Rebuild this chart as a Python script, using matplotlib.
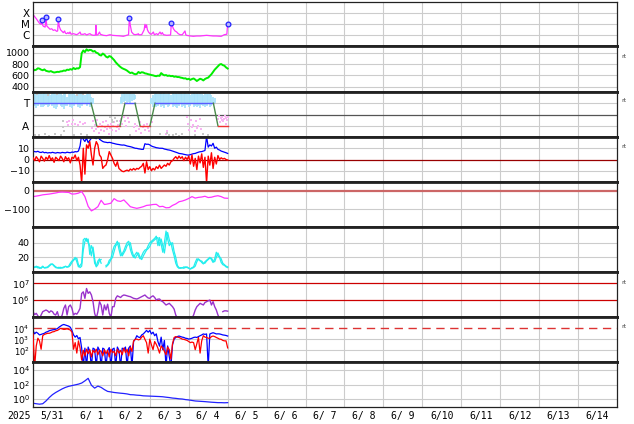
"""
plot.py - space weather summary, 2025-05-31 .. 2025-06-14 (9 stacked panels).
Times are hours since 2025-05-31 00:00 UT.
"""
import numpy as np
import matplotlib
matplotlib.use("Agg")
import matplotlib.pyplot as plt
from matplotlib.ticker import NullLocator

nan = np.nan

# ── Data ──────────────────────────────────────────────────────────────────────

day_labels = ["5/31", "6/ 1", "6/ 2", "6/ 3", "6/ 4", "6/ 5", "6/ 6", "6/ 7",
              "6/ 8", "6/ 9", "6/10", "6/11", "6/12", "6/13", "6/14"]

# X-ray flux (log10 W/m2)
xr_hours = [0, 1, 2, 3, 4, 5.0, 5.4, 5.9, 6.4, 7.5,
            8.0, 8.5, 9.5, 10.5, 11.5, 12.5, 13.5, 14.6, 15.2, 15.6,
            16.2, 17.0, 18.0, 18.7, 19.5, 20.0, 20.8, 21.5, 22.2, 22.8,
            23.5, 24.9, 26.0, 26.9, 28.0, 29.0, 29.5, 31.0, 32.0, 33.1,
            34.0, 35.1, 36.0, 37.2, 38.5, 38.8, 39.2, 40.0, 41.0, 41.5,
            42.3, 43.5, 45.4, 47.5, 49.0, 51.6, 53.5, 55.7, 57.7, 58.9,
            59.4, 60.0, 60.8, 62.0, 62.9, 64.5, 64.9, 65.3, 67.0, 68.5,
            69.0, 69.5, 70.0, 70.5, 71.2, 72.1, 73.0, 74.2, 74.8, 76.2,
            77.0, 78.3, 79.0, 79.7, 80.4, 82.4, 84.8, 85.3, 86.5, 87.5,
            88.6, 89.5, 90.6, 92.0, 93.7, 94.2, 94.7, 96.5, 98.8, 101.0,
            103.0, 105.0, 107.0, 109.0, 111.0, 113.0, 116.0, 118.0, 119.5, 120.0]
xr_log = [-4.09, -4.3, -4.48, -4.7, -4.9, -5.0, -4.64, -5.05, -5.18, -5.25,
          -4.34, -5.15, -5.3, -5.45, -5.4, -5.55, -5.5, -5.64, -5.6, -4.55,
          -5.2, -5.5, -5.65, -5.76, -5.6, -5.8, -5.85, -5.75, -5.85, -5.7,
          -5.9, -5.85, -5.9, -5.94, -5.85, -5.7, -5.9, -5.91, -5.85, -5.97,
          -5.9, -5.85, -5.95, -6.0, -5.98, -5.09, -5.98, -5.95, -5.7, -5.9,
          -5.94, -6.0, -6.03, -5.94, -6.0, -6.03, -6.05, -6.09, -6.0, -5.95,
          -4.45, -5.1, -5.7, -5.9, -5.94, -5.9, -5.85, -5.95, -5.94, -5.5,
          -5.0, -5.3, -5.05, -5.48, -5.7, -5.85, -5.9, -5.7, -5.95, -5.85,
          -5.95, -5.7, -5.9, -5.75, -5.94, -6.0, -5.97, -4.85, -5.39, -5.6,
          -5.7, -5.85, -5.94, -5.95, -5.6, -5.95, -6.0, -6.05, -6.09, -6.06,
          -6.06, -6.03, -6.0, -6.03, -6.06, -6.06, -6.09, -5.94, -5.9, -4.94]
flare_hours = [5.4, 8.0, 15.6, 59.4, 85.3, 120.0]
flare_log = [-4.64, -4.34, -4.55, -4.45, -4.85, -4.94]

# solar wind speed (km/s), hourly
speed = [712, 690, 700, 725, 718, 700, 690, 705, 680, 672,
         665, 675, 660, 650, 655, 662, 660, 670, 672, 685,
         680, 700, 695, 710, 700, 730, 710, 725, 720, 745,
         990, 1040, 1010, 1060, 1035, 1050, 1045, 1020, 1030, 1000,
         990, 960, 950, 985, 965, 930, 915, 940, 930, 900,
         870, 830, 800, 770, 745, 725, 712, 700, 683, 660,
         640, 650, 630, 620, 625, 660, 640, 655, 650, 635,
         630, 620, 614, 605, 600, 590, 585, 595, 590, 640,
         615, 600, 605, 590, 596, 585, 590, 575, 580, 570,
         570, 560, 555, 545, 548, 530, 540, 520, 535, 545,
         525, 500, 520, 540, 530, 510, 535, 550, 560, 590,
         620, 660, 700, 730, 760, 790, 800, 780, 770, 740, 720]

# IMF sector (3 = toward, 1 = away)
sector_hours = [0, 35.8, 39.3, 53.6, 56.7, 62.9, 66.0, 72.1, 75.2, 111.2, 114.0, 120.2]
sector_state = [3, 3, 1, 1, 3, 3, 1, 1, 3, 3, 1, 1]
toward_hi = [3.9, 3.85, 3.9, 3.8, 3.9, 3.95, 3.85, 3.9, 3.8, 3.9,
             3.85, 3.7, 3.9, 3.95, 3.85, 3.8, 3.9, 3.9, 3.75, 3.85,
             3.9, 3.6, 3.85, 3.9, 3.8, 3.9, 3.7, 3.85, 3.9, 3.95,
             3.9, 3.8, 3.7, 3.85, 3.9, 3.8, 3.6, 3.5,
             nan, nan, nan, nan, nan, nan, nan, nan, nan, nan, nan, nan, nan, nan, nan, nan,
             3.6, 3.8, 3.9, 3.85, 3.9, 3.95, 3.9, 3.8, 3.85, 3.7,
             nan, nan, nan, nan, nan, nan, nan, nan, nan,
             3.5, 3.7, 3.85, 3.9, 3.8, 3.9, 3.95, 3.85, 3.9, 3.8,
             3.85, 3.9, 3.75, 3.9, 3.85, 3.9, 3.8, 3.95, 3.9, 3.85,
             3.8, 3.9, 3.85, 3.9, 3.7, 3.85, 3.9, 3.8, 3.9, 3.85,
             3.9, 3.8, 3.75, 3.9, 3.85, 3.8, 3.9, 3.7, 3.6, 3.5,
             nan, nan, nan, nan, nan, nan, nan, nan]
toward_lo = [2.7, 2.8, 2.6, 2.75, 2.9, 2.7, 2.65, 2.8, 2.85, 2.7,
             2.75, 2.95, 2.8, 2.6, 2.5, 2.7, 2.9, 2.8, 2.65, 2.45,
             2.75, 2.8, 2.9, 2.7, 2.6, 2.8, 3.0, 2.9, 2.7, 2.55,
             2.8, 3.0, 2.9, 2.75, 2.9, 2.7, 2.8, 2.9,
             nan, nan, nan, nan, nan, nan, nan, nan, nan, nan, nan, nan, nan, nan, nan, nan,
             2.9, 3.0, 3.1, 3.2, 3.0, 3.1, 3.05, 3.2, 3.3, 3.4,
             nan, nan, nan, nan, nan, nan, nan, nan, nan,
             2.9, 2.7, 2.8, 2.65, 2.75, 2.9, 2.7, 2.8, 2.6, 2.85,
             2.7, 2.75, 2.9, 2.65, 2.8, 2.7, 2.55, 2.8, 2.9, 2.7,
             2.75, 2.6, 2.85, 2.7, 2.8, 2.9, 2.65, 2.75, 2.7, 2.8,
             2.6, 2.85, 2.75, 2.7, 2.8, 2.9, 2.7, 2.8, 2.9, 3.0,
             nan, nan, nan, nan, nan, nan, nan, nan]
pink_hours = [20.8, 21.6, 22.4, 23.9, 24.7, 26.1, 27.5, 29.0, 30.6, 32.2,
              36.3, 36.9, 37.6, 38.2, 38.8, 39.5, 40.1, 40.7, 41.4, 42.0,
              42.6, 43.3, 43.9, 44.5, 45.2, 45.8, 46.4, 47.1, 47.7, 48.3,
              49.0, 49.6, 50.2, 50.9, 51.5, 52.1, 52.8, 53.4, 54.2, 55.1,
              55.9, 56.8, 57.6, 58.5, 59.3, 62.0, 62.8, 63.6, 64.4, 65.2,
              66.0, 66.8, 67.6, 68.4, 69.2, 70.0, 70.8, 71.6, 72.4, 73.2,
              82.0, 82.8, 83.6, 94.8, 95.6, 96.4, 97.2, 98.0, 98.8, 99.6,
              100.4, 101.2, 102.0, 102.8, 103.6, 114.2, 114.7, 115.2, 115.7, 116.2,
              116.7, 117.2, 117.7, 118.2, 118.7, 119.2, 119.7, 120.1]
pink_level = [1.3, 1.1, 1.4, 1.2, 1.5, 1.2, 1.1, 1.3, 1.2, 1.25,
              0.8, 1.4, 0.5, 1.1, 0.7, 1.5, 0.9, 0.4, 1.2, 0.6,
              1.0, 1.3, 0.5, 0.9, 1.4, 0.7, 1.1, 0.3, 0.8, 1.2,
              0.6, 1.0, 1.3, 0.5, 0.9, 1.1, 0.7, 1.4, 1.6, 1.2,
              1.8, 1.4, 1.0, 1.7, 1.3, 0.9, 1.2, 0.5, 1.0, 0.7,
              1.3, 0.4, 0.9, 1.1, 0.6, 1.2, 0.8, 0.5, 1.0, 1.3,
              0.3, 0.5, 0.2, 1.8, 1.2, 0.6, 1.5, 0.9, 1.1, 0.5,
              1.4, 0.8, 1.0, 1.6, 0.7, 1.6, 1.9, 1.3, 1.7, 1.5,
              1.8, 1.4, 1.6, 1.9, 1.2, 1.7, 1.5, 1.8]
gray_hours = [1.5, 4.0, 7.5, 10.0, 13.5, 17.0, 18.2, 18.6, 19.0, 25.0,
              29.5, 33.0, 47.5, 48.5, 49.5, 50.5, 51.5, 60.0, 78.0, 82.5,
              84.0, 86.5, 88.0, 90.0, 92.0, 105.0, 108.0, 2.5, 9.0, 15.0,
              27.0, 31.0, 100.0]
gray_level = [0.2, 0.15, 0.3, 0.1, 0.25, 0.2, 1.4, 0.9, 0.5, 0.15,
              0.3, 0.2, 1.8, 1.5, 1.3, 1.7, 1.4, 0.2, 0.3, 0.4,
              0.2, 0.15, 0.3, 0.1, 0.25, 0.3, 0.2, 3.8, 3.7, 3.85,
              3.75, 3.8, 0.2]

# IMF magnitude and Bz (nT), hourly
bt = [7.5, 7.0, 6.8, 7.3, 6.5, 6.2, 6.8, 6.0, 6.3, 5.8,
      6.1, 5.9, 6.4, 6.0, 5.7, 6.2, 6.0, 5.8, 6.3, 6.1,
      5.9, 6.5, 6.2, 6.0, 6.6, 6.4, 7.0, 6.8, 7.5, 12.0,
      22.0, 18.0, 16.0, 19.0, 15.0, 17.0, 19.0, 20.5, 19.0, 18.5,
      21.0, 18.0, 17.0, 16.0, 15.5, 15.3, 15.0, 15.2, 15.0, 14.5,
      14.2, 13.8, 13.5, 13.3, 13.0, 12.8, 12.9, 12.5, 12.0, 11.7,
      11.4, 11.0, 10.5, 10.0, 9.9, 9.5, 9.3, 9.0, 9.0, 14.0,
      13.5, 13.6, 13.0, 12.0, 11.4, 11.0, 10.5, 10.3, 10.0, 10.0,
      9.9, 9.3, 9.0, 8.6, 8.4, 8.0, 7.5, 7.0, 6.5, 6.0,
      5.4, 5.2, 5.0, 4.6, 4.3, 4.0, 3.9, 4.3, 4.8, 5.2,
      5.4, 6.0, 6.5, 6.9, 7.0, 7.5, 8.0, 20.5, 11.0, 13.0,
      12.0, 14.4, 10.0, 11.0, 9.0, 8.4, 7.5, 7.0, 6.5, 6.0, 5.4]
bz = [1.5, -1.0, 2.5, 0.5, -2.0, 3.0, 1.0, -1.5, 2.0, 0.0,
      3.5, -0.5, 1.5, -2.5, 2.0, 0.5, -1.0, 3.0, 1.0, -2.0,
      2.5, 0.0, 1.5, -3.0, 2.0, 1.0, 4.0, -1.0, 2.0, -5.0,
      -21.0, 10.0, -13.0, 13.0, 10.0, 15.9, 4.0, -4.9, 10.0, 15.9,
      13.0, 4.0, 2.0, -7.9, -6.0, -4.9, 0.0, 7.0, 4.0, 1.0,
      -3.4, -6.0, -2.0, -8.0, -9.3, -10.5, -10.8, -10.0, -9.5, -10.2,
      -8.5, -9.5, -8.0, -9.3, -7.9, -8.5, -7.0, -6.0, -3.4, -12.0,
      -2.0, -9.0, -6.4, -10.0, -7.9, -9.3, -6.4, -8.0, -5.0, -7.9,
      -6.4, -4.9, -6.0, -3.4, -4.9, -2.0, -1.0, 1.0, 2.5, 0.5,
      3.0, 1.0, 2.5, -1.0, 2.0, 0.0, 3.0, -4.0, 4.0, -6.0,
      1.0, -9.0, 3.0, -3.0, 5.0, -7.0, 2.0, -21.0, 3.0, -5.0,
      6.0, -8.0, 2.0, -4.0, 3.5, 0.0, 1.5, 0.5, 1.0, 0.0, -0.4]

# Dst index (nT), every 2 h
dst = [-32, -29, -26, -22, -20, -18, -15, -12, -8, -7,
       -8, -9, -18, -17, -13, -4, -32, -85, -110, -100,
       -87, -52, -75, -72, -68, -43, -55, -58, -50, -68,
       -87, -92, -96, -92, -87, -80, -78, -75, -74, -87,
       -85, -93, -92, -80, -72, -60, -56, -50, -42, -32,
       -40, -36, -34, -30, -37, -35, -30, -27, -32, -40,
       -41]

# cyan index, two traces, hourly
cyan_a = [7, 6, 8, 5.5, 6.5, 5, 7, 6, 5.5, 7,
          9, 11, 10.5, 8, 6, 5.5, 6.5, 5, 6, 7,
          7.5, 6.5, 8, 12, 15, 17, 20, 14, 7, 9,
          12, 44, 46, 42, 45, 24, 36, 30, 12, 8,
          15, 18, 12, nan, nan, 9, 10, 16, 18, 28,
          35, 38, 42, 31, 22, 25, 29, 35, 40, 42,
          31, 24, 20, 24, 27, 22, 18, 22, 27, 30,
          31, 36, 40, 42, 44, 46, 49, 36, 47, 38,
          27, 40, 56, 45, 36, 40, 30, 22, 12, 7,
          5, 6, 5.5, 7, 6, 7, 5, 4.4, 6, 7,
          13, 18, 17, 16, 13, 11, 14, 16, 18, 20,
          17, 13, 18, 27, 22, 20, 13, 10, 9, 7, 6]
cyan_b = [6, 7, 6.5, 7.5, 5, 6, 8, 5.5, 6.5, 6,
          8, 10, 11, 9, 7, 6, 5, 6.5, 5.5, 6,
          8, 7, 7, 9, 13, 16, 18, 19, 10, 6,
          8, 30, 42, 46, 40, 36, 22, 34, 18, 7,
          10, 16, 17, nan, nan, 7, 9, 12, 17, 20,
          28, 36, 38, 40, 28, 22, 26, 30, 36, 38,
          40, 29, 22, 19, 23, 26, 20, 17, 22, 26,
          30, 32, 35, 40, 42, 44, 46, 47, 36, 45,
          36, 26, 42, 54, 44, 38, 40, 28, 20, 9,
          6, 5, 6, 5, 7, 6, 5.5, 4, 5, 6,
          8, 14, 18, 15, 15, 12, 12, 15, 17, 19,
          19, 15, 14, 20, 26, 21, 18, 12, 10, 8, 7]

# electron fluence (log10), hourly
fluence_log = [5.31, 5.12, 5.2, 5.05, 4.9, 5.1, 5.3, 5.35, 5.4, 5.35,
               5.25, 5.35, 5.3, 5.15, 5.1, 5.3, 4.95, 4.9, 5.1, 5.5,
               5.7, 5.1, 5.6, 5.7, 5.5, 5.1, 5.2, 5.15, 5.3, 5.5,
               6.39, 6.49, 6.1, 6.69, 6.4, 6.49, 6.3, 5.9, 5.2, 4.9,
               5.3, 5.9, 5.7, 5.1, 5.7, 5.4, 5.75, 5.2, 4.95, 5.6,
               5.6, 6.1, 6.25, 6.2, 6.15, 6.25, 6.3, 6.28, 6.25, 6.22,
               6.2, 6.15, 6.1, 6.08, 6.06, 6.1, 6.15, 6.2, 6.25, 6.3,
               6.2, 6.12, 6.1, 6.2, 6.25, 6.15, 6.0, 6.05, 6.06, 5.95,
               5.9, 5.8, 5.7, 5.75, 5.8, 5.7, 5.6, 5.45, 5.1, 4.9,
               4.8, 4.8, 4.8, 4.8, 4.8, 4.8, 4.8, 4.8, 4.9, 5.1,
               5.4, 5.6, 5.7, 5.8, 5.75, 5.7, 5.85, 5.9, 5.95, 6.0,
               5.7, 5.9, 5.6, 5.4, 5.1, 4.9, nan, 5.3, 5.35, 5.35, 5.33]

# particle flux (log10), two channels, hourly
flux_blue = [3.81, 3.5, 3.65, 3.55, 3.4, 3.45, 3.5, 3.55, 3.65, 3.7,
             3.78, 3.82, 3.86, 3.88, 3.92, 3.97, 4.1, 4.2, 4.3, 4.35,
             4.3, 4.25, 4.2, 4.1, 3.8, 3.4, 3.2, 3.35, 3.05, 3.17,
             2.2, 0.5, 2.2, 0.5, 2.3, 1.9, 0.5, 2.2, 2.1, 0.5,
             2.3, 2.0, 0.5, 2.2, 2.1, 0.5, 2.0, 2.25, 0.5, 2.1,
             2.2, 0.5, 2.3, 2.0, 0.5, 2.2, 2.1, 2.3, 0.5, 2.2,
             2.4, 0.5, 2.8, 3.0, 3.33, 3.2, 3.17, 3.4, 3.49, 3.65,
             3.81, 3.65, 3.81, 3.49, 3.65, 3.33, 3.5, 2.8, 2.38, 3.2,
             2.06, 2.9, 0.5, 2.4, 1.43, 0.5, 2.5, 3.02, 3.17, 3.25,
             3.3, 3.25, 3.2, 3.17, 3.1, 3.08, 3.02, 3.05, 3.1, 3.17,
             3.2, 3.17, 3.25, 3.33, 3.4, 3.49, 3.45, 3.49, 0.5, 3.49,
             3.55, 3.6, 3.55, 3.49, 3.5, 3.49, 3.45, 3.4, 3.38, 3.35, 3.3]
flux_red = [3.49, 0.5, 2.4, 3.1, 2.86, 2.1, 3.33, 3.45, 3.5, 3.55,
            3.55, 3.6, 3.68, 3.7, 3.78, 3.81, 3.9, 4.0, 3.95, 3.9,
            3.92, 3.96, 3.9, 3.85, 3.65, 2.1, 2.7, 1.75, 2.86, 2.22,
            1.11, 2.0, 1.5, 2.1, 1.7, 2.06, 1.4, 2.0, 1.8, 2.1,
            1.6, 2.0, 1.9, 1.5, 2.05, 1.7, 2.0, 1.4, 2.1, 1.8,
            1.9, 1.5, 2.1, 1.75, 2.0, 1.6, 2.2, 1.8, 2.1, 1.5,
            2.3, 1.9, 2.86, 3.0, 3.02, 2.95, 3.0, 3.2, 3.33, 3.0,
            2.7, 1.75, 3.02, 2.5, 2.06, 2.8, 2.54, 2.2, 1.75, 2.4,
            2.22, 1.9, 1.6, 2.3, 2.06, 1.2, 2.6, 3.17, 3.25, 3.2,
            3.17, 3.1, 3.02, 3.0, 2.95, 2.9, 2.8, 2.7, 2.75, 2.7,
            2.06, 2.6, 3.17, 1.75, 2.86, 3.33, 3.2, 3.17, 3.1, 3.1,
            3.25, 3.3, 3.25, 3.17, 3.1, 3.02, 3.0, 2.9, 2.86, 2.86, 2.22]

# high-energy electrons (log10), every 2 h
electron_log = [-0.58, -0.65, -0.71, -0.65, -0.27, 0.2, 0.6, 0.9, 1.15, 1.4,
                1.6, 1.75, 1.85, 1.95, 2.05, 2.2, 2.5, 2.85, 1.9, 1.5,
                1.78, 1.6, 1.3, 1.05, 0.98, 0.9, 0.85, 0.8, 0.76, 0.7,
                0.6, 0.58, 0.53, 0.5, 0.44, 0.42, 0.4, 0.38, 0.36, 0.34,
                0.31, 0.25, 0.2, 0.13, 0.09, 0.03, 0.0, -0.08, -0.13, -0.2,
                -0.27, -0.3, -0.33, -0.36, -0.4, -0.44, -0.47, -0.5, -0.5, -0.52,
                -0.5]

# ── Layout ────────────────────────────────────────────────────────────────────

W, H = 634, 424
X0, X1 = 33, 617
TOPS = [2, 46, 92, 137, 182, 227, 272, 317, 362]
BOTS = [46, 92, 137, 182, 227, 272, 317, 362, 407]
GRID = "#cccccc"
FRAME = "#222222"

hourly = np.arange(len(speed))
two_hourly = np.arange(len(dst)) * 2

fig = plt.figure(figsize=(W / 100, H / 100), dpi=100)
fig.patch.set_facecolor("white")


def make_panel(i):
    t, b = TOPS[i], BOTS[i]
    ax = fig.add_axes([X0 / W, 1 - b / H, (X1 - X0) / W, (b - t) / H])
    ax.set_xlim(0, 360)
    ax.set_xticks([])
    for d in range(1, 15):
        ax.axvline(24 * d, color=GRID, lw=0.8, zorder=0)
    ax.tick_params(axis="y", which="both", labelsize=6.8, length=0, pad=2.5,
                   right=True)
    ax.tick_params(axis="y", which="major", direction="in")
    for side in ("left", "right"):
        ax.spines[side].set_linewidth(0.9)
        ax.spines[side].set_color(FRAME)
    ax.spines["top"].set_linewidth(0.9 if i == 0 else 2.0)
    ax.spines["bottom"].set_linewidth(0.9 if i == 8 else 2.0)
    ax.spines["top"].set_color(FRAME)
    ax.spines["bottom"].set_color(FRAME)
    return ax


def hgrid(ax, levels):
    for v in levels:
        ax.axhline(v, color=GRID, lw=0.8, zorder=0)


axes = [make_panel(i) for i in range(9)]

# 1: X-ray
ax = axes[0]
ax.set_yscale("log")
ax.set_ylim(10 ** -6.97, 10 ** -2.97)
ax.yaxis.set_minor_locator(NullLocator())
ax.set_yticks([1e-6, 1e-5, 1e-4])
ax.set_yticklabels(["C", "M", "X"], fontsize=7.5)
hgrid(ax, [1e-6, 1e-5, 1e-4])
ax.plot(xr_hours, 10 ** np.array(xr_log), color="#ff33ff", lw=0.9)
ax.plot(flare_hours, 10 ** np.array(flare_log), "o", ms=3.4, mfc="#b8b8ff",
        mec="#2222ff", mew=0.9)

# 2: solar wind speed
ax = axes[1]
ax.set_ylim(306, 1118)
ax.set_yticks([400, 600, 800, 1000])
hgrid(ax, [400, 600, 800, 1000])
ax.plot(hourly, speed, color="#00ee00", lw=1.4)

# 3: IMF sector
ax = axes[2]
ax.set_ylim(0, 4)
ax.set_yticks([1, 3])
ax.set_yticklabels(["A", "T"], fontsize=7.5)
hgrid(ax, [1, 3])
ax.axhline(2, color="#555555", lw=0.9, zorder=1)
ax.vlines(hourly, toward_lo, toward_hi, color="#a8e2fa", lw=1.3, zorder=1)
ax.scatter(pink_hours, pink_level, s=3.5, marker="s", color="#f8b4f2",
           linewidths=0, zorder=1)
ax.scatter(gray_hours, gray_level, s=3.5, marker="s", color="#c8c8c8",
           linewidths=0, zorder=1)
for k in range(len(sector_hours) - 1):
    a, b = sector_state[k], sector_state[k + 1]
    col = "#5a5aff" if a == b == 3 else ("#ee3333" if a == b == 1 else "#4a8a4a")
    ax.plot(sector_hours[k:k + 2], sector_state[k:k + 2], color=col, lw=1.0, zorder=2)

# 4: IMF
ax = axes[3]
ax.set_ylim(-20, 20)
ax.set_yticks([-10, 0, 10])
hgrid(ax, [-10, 10])
ax.axhline(0, color="#990000", lw=0.9, zorder=1)
ax.plot(hourly, bt, color="#0000ff", lw=0.9, zorder=2)
ax.plot(hourly, bz, color="#ff0000", lw=1.0, zorder=3)

# 5: Dst
ax = axes[4]
ax.set_ylim(-198, 48)
ax.set_yticks([-100, 0])
hgrid(ax, [-100])
ax.axhline(0, color="#cc6666", lw=1.6, zorder=1)
ax.plot(two_hourly, dst, color="#ff33ff", lw=0.9, zorder=2)

# 6: cyan index
ax = axes[5]
ax.set_ylim(0, 61.5)
ax.set_yticks([20, 40])
hgrid(ax, [20, 40])
ax.plot(hourly, cyan_a, color="#22eeee", lw=0.9)
ax.plot(hourly, cyan_b, color="#22eeee", lw=0.9)

# 7: electron fluence
ax = axes[6]
ax.set_yscale("log")
ax.set_ylim(10 ** 4.98, 10 ** 7.68)
ax.yaxis.set_minor_locator(NullLocator())
ax.set_yticks([1e6, 1e7])
ax.set_yticklabels([r"$10^{6}$", r"$10^{7}$"])
for v in (1e6, 1e7):
    ax.axhline(v, color="#cc0000", lw=0.9, zorder=1)
ax.plot(hourly, 10 ** np.array(fluence_log), color="#9933cc", lw=1.0, zorder=2)

# 8: particle flux (labels packed tight, so a touch smaller)
ax = axes[7]
ax.set_yscale("log")
ax.set_ylim(10 ** 0.94, 10 ** 5.03)
ax.yaxis.set_minor_locator(NullLocator())
ax.set_yticks([1e2, 1e3, 1e4])
ax.set_yticklabels([r"$10^{2}$", r"$10^{3}$", r"$10^{4}$"], fontsize=6.0)
hgrid(ax, [1e2, 1e3])
ax.axhline(1e4, color="#dd3333", lw=1.0, ls=(0, (6, 4)), zorder=1)
ax.plot(hourly, 10 ** np.array(flux_blue), color="#0000ff", lw=0.9, zorder=2)
ax.plot(hourly, 10 ** np.array(flux_red), color="#ff0000", lw=0.9, zorder=3)

# 9: high-energy electrons
ax = axes[8]
ax.set_yscale("log")
ax.set_ylim(10 ** -1.1, 10 ** 5.1)
ax.yaxis.set_minor_locator(NullLocator())
ax.set_yticks([1e0, 1e2, 1e4])
ax.set_yticklabels([r"$10^{0}$", r"$10^{2}$", r"$10^{4}$"])
hgrid(ax, [1e0, 1e2, 1e4])
ax.plot(two_hourly, 10 ** np.array(electron_log), color="#2222ff", lw=0.9)

# x axis labels (centred on each day)
ax.set_xticks([12 + 24 * k for k in range(len(day_labels))])
ax.set_xticklabels(day_labels, family="DejaVu Sans Mono", fontsize=7)
ax.tick_params(axis="x", length=0, pad=3)
fig.text(19 / W, 1 - 416 / H, "2025", family="DejaVu Sans Mono", fontsize=7,
         ha="center", va="center")

# real-time flags on the right
for y in (56, 101, 147, 282, 327):
    fig.text(621 / W, 1 - y / H, "rt", fontsize=4.5, color="#444444",
             ha="left", va="center")

fig.savefig("out.png", dpi=100)
